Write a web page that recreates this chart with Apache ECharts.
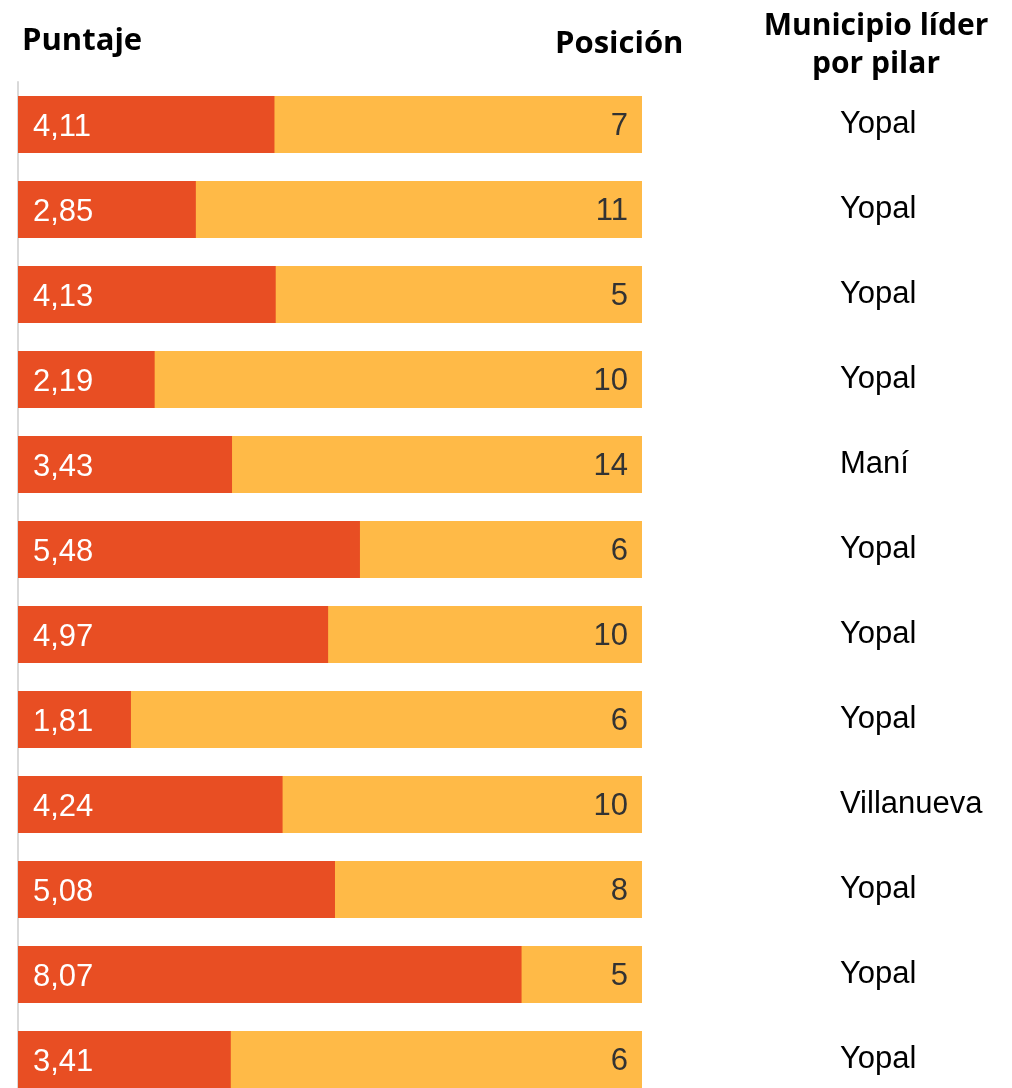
<!DOCTYPE html>
<html><head><meta charset="utf-8">
<script src="https://cdn.jsdelivr.net/npm/echarts@6/dist/echarts.min.js"></script>
<style>html,body{margin:0;padding:0;background:#fff}#c{width:1012px;height:1088px}</style>
</head><body><div id="c"></div>
<script>
const pilares = ['P1','P2','P3','P4','P5','P6','P7','P8','P9','P10','P11','P12'];
const puntaje = [4.11, 2.85, 4.13, 2.19, 3.43, 5.48, 4.97, 1.81, 4.24, 5.08, 8.07, 3.41];
const posicion = [7, 11, 5, 10, 14, 6, 10, 6, 10, 8, 5, 6];
const lider = ['Yopal','Yopal','Yopal','Yopal','Maní','Yopal','Yopal','Yopal','Villanueva','Yopal','Yopal','Yopal'];
const escalaMax = 10;
const headers = {puntaje: 'Puntaje', posicion: 'Posición', lider: 'Municipio líder\npor pilar'};

const FONT = 'Liberation Sans';
const chart = echarts.init(document.getElementById('c'), null, {renderer: 'canvas'});
const hdr = {fontFamily: 'Open Sans', fontWeight: 'bold', fontSize: 31, color: '#000'};
chart.setOption({
  animation: false,
  title: [
    {text: headers.puntaje, left: 22, top: 26, padding: 0, textStyle: hdr},
    {text: headers.posicion, left: 555, top: 29, padding: 0, textStyle: hdr},
    {text: headers.lider, left: 876, textAlign: 'center', top: 7, padding: 0,
     textStyle: Object.assign({}, hdr, {fontSize: 30, lineHeight: 38})}
  ],
  grid: {left: 18, width: 624, top: 82, height: 1020, containLabel: false, outerBoundsMode: 'none'},
  xAxis: {type: 'value', min: 0, max: escalaMax, show: false},
  yAxis: [
    {type: 'category', data: pilares, inverse: true,
     axisLine: {show: true, lineStyle: {color: '#d9d9d9', width: 2}},
     axisTick: {show: false}, axisLabel: {show: false}},
    {type: 'category', data: lider, inverse: true, position: 'right',
     axisLine: {show: false}, axisTick: {show: false},
     axisLabel: {show: true, margin: 198, align: 'left', verticalAlign: 'middle',
       fontFamily: FONT, fontSize: 31, color: '#000', padding: [0,0,8,0]}}
  ],
  series: [
    {type: 'bar', name: 'Puntaje', data: puntaje, barWidth: 57, yAxisIndex: 0,
     showBackground: true, backgroundStyle: {color: '#FFBA47'},
     itemStyle: {color: '#E84E23'},
     label: {show: true, position: 'insideLeft', distance: 15, offset: [0, 3], color: '#fff',
       fontFamily: FONT, fontSize: 31,
       formatter: p => p.value.toFixed(2).replace('.', ',')}},
    {type: 'bar', name: 'Posición', data: posicion.map(() => escalaMax),
     barWidth: 57, barGap: '-100%', yAxisIndex: 0, silent: true,
     itemStyle: {color: 'rgba(0,0,0,0)'},
     label: {show: true, position: 'insideRight', distance: 14, offset: [0, 2], color: '#333',
       fontFamily: FONT, fontSize: 31,
       formatter: p => String(posicion[p.dataIndex])}}
  ]
});
</script></body></html>
